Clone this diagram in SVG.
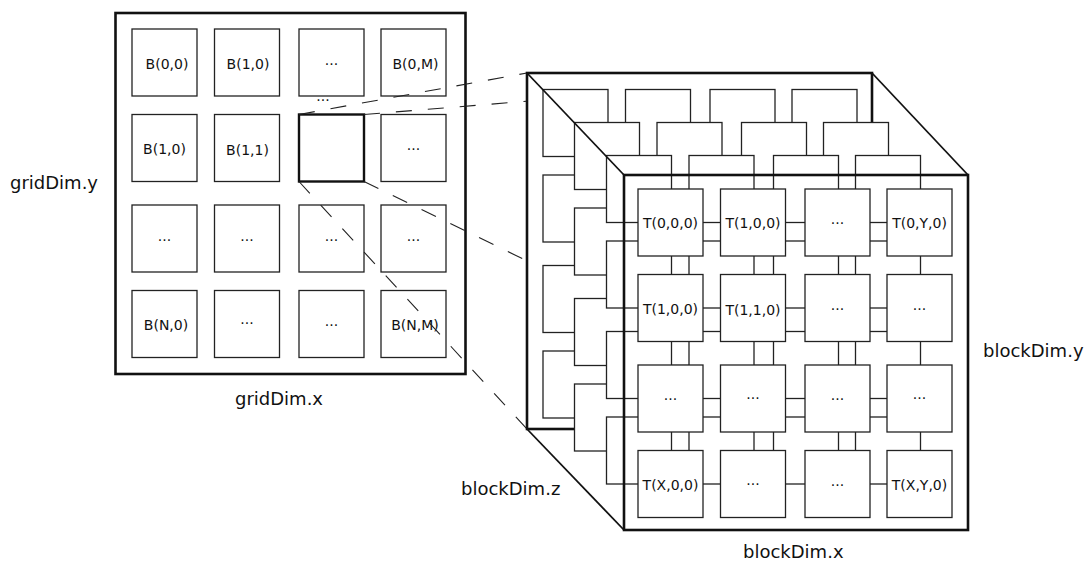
<svg xmlns="http://www.w3.org/2000/svg" xmlns:xlink="http://www.w3.org/1999/xlink" width="1088" height="564" viewBox="0 0 1088 564">
<style>
.b{fill:#fff;stroke:#222;stroke-width:1.3}
.hl{fill:#fff;stroke:#111;stroke-width:2.4}
.frame{fill:#fff;stroke:#111;stroke-width:2.6}
.back{fill:#fff;stroke:#111;stroke-width:2.6}
.face{fill:none;stroke:#111;stroke-width:2.6}
.diag{fill:none;stroke:#111;stroke-width:1.8}
.dash{fill:none;stroke:#222;stroke-width:1.1;stroke-dasharray:16 16}
.t{font-family:"DejaVu Sans",sans-serif;font-size:14px;text-anchor:middle;fill:#111}
.lbl{font-family:"DejaVu Sans",sans-serif;font-size:18px;fill:#111}
</style>
<defs>
<g id="layer">
<rect class="b" x="0" y="0" width="65" height="67"/><rect class="b" x="82.5" y="0" width="65" height="67"/><rect class="b" x="167" y="0" width="65" height="67"/><rect class="b" x="249" y="0" width="65" height="67"/>
<rect class="b" x="0" y="85.5" width="65" height="67"/><rect class="b" x="82.5" y="85.5" width="65" height="67"/><rect class="b" x="167" y="85.5" width="65" height="67"/><rect class="b" x="249" y="85.5" width="65" height="67"/>
<rect class="b" x="0" y="176" width="65" height="67"/><rect class="b" x="82.5" y="176" width="65" height="67"/><rect class="b" x="167" y="176" width="65" height="67"/><rect class="b" x="249" y="176" width="65" height="67"/>
<rect class="b" x="0" y="261.5" width="65" height="67"/><rect class="b" x="82.5" y="261.5" width="65" height="67"/><rect class="b" x="167" y="261.5" width="65" height="67"/><rect class="b" x="249" y="261.5" width="65" height="67"/>
</g>
</defs>

<g id="grid">
<rect class="frame" x="115.5" y="13" width="350" height="361"/>
<g id="B00"><rect class="b" x="132" y="29" width="65" height="67"/><text class="t" x="167" y="68.5">B(0,0)</text></g>
<g id="B10a"><rect class="b" x="214.5" y="29" width="65" height="67"/><text class="t" x="248" y="68.5">B(1,0)</text></g>
<g id="B20"><rect class="b" x="299" y="29" width="65" height="67"/><text class="t" x="331.5" y="64.5">...</text></g>
<g id="B0M"><rect class="b" x="381" y="29" width="65" height="67"/><text class="t" x="415.5" y="68.5">B(0,M)</text></g>
<g id="B10b"><rect class="b" x="132" y="114.5" width="65" height="67"/><text class="t" x="164.5" y="154">B(1,0)</text></g>
<g id="B11"><rect class="b" x="214.5" y="114.5" width="65" height="67"/><text class="t" x="247.5" y="155">B(1,1)</text></g>
<g id="Bsel"><rect class="hl" x="299" y="114.5" width="65" height="67"/></g>
<g id="B31"><rect class="b" x="381" y="114.5" width="65" height="67"/><text class="t" x="413.5" y="150">...</text></g>
<g id="B02"><rect class="b" x="132" y="205" width="65" height="67"/><text class="t" x="164.5" y="240.5">...</text></g>
<g id="B12"><rect class="b" x="214.5" y="205" width="65" height="67"/><text class="t" x="247" y="240.5">...</text></g>
<g id="B22"><rect class="b" x="299" y="205" width="65" height="67"/><text class="t" x="331.5" y="240.5">...</text></g>
<g id="B32"><rect class="b" x="381" y="205" width="65" height="67"/><text class="t" x="413.5" y="240.5">...</text></g>
<g id="BN0"><rect class="b" x="132" y="290.5" width="65" height="67"/><text class="t" x="166" y="330">B(N,0)</text></g>
<g id="B13"><rect class="b" x="214.5" y="290.5" width="65" height="67"/><text class="t" x="247" y="324">...</text></g>
<g id="B23"><rect class="b" x="299" y="290.5" width="65" height="67"/><text class="t" x="331.5" y="326">...</text></g>
<g id="BNM"><rect class="b" x="381" y="290.5" width="65" height="67"/><text class="t" x="415" y="330">B(N,M)</text></g>
<text id="vdots" class="t" x="323" y="101">...</text>
</g>

<g id="connectors">
<line class="dash" x1="299" y1="114.5" x2="527" y2="73"/>
<line class="dash" x1="364" y1="114.5" x2="872" y2="73"/>
<line class="dash" x1="364" y1="181.5" x2="872" y2="429"/>
<line class="dash" x1="299" y1="181.5" x2="527" y2="429"/>
</g>

<g id="block">
<rect class="back" x="527" y="73" width="345" height="356"/>
<use xlink:href="#layer" href="#layer" x="543" y="89.5"/>
<use xlink:href="#layer" href="#layer" x="574.5" y="122.5"/>
<use xlink:href="#layer" href="#layer" x="606.5" y="155.5"/>
<g id="T000"><rect class="b" x="638" y="189" width="65" height="67"/><text class="t" x="670.5" y="228">T(0,0,0)</text></g>
<g id="T100a"><rect class="b" x="720.5" y="189" width="65" height="67"/><text class="t" x="753" y="228">T(1,0,0)</text></g>
<g id="T200"><rect class="b" x="805" y="189" width="65" height="67"/><text class="t" x="837.5" y="224">...</text></g>
<g id="T0Y0"><rect class="b" x="887" y="189" width="65" height="67"/><text class="t" x="919.5" y="228">T(0,Y,0)</text></g>
<g id="T100b"><rect class="b" x="638" y="274.5" width="65" height="67"/><text class="t" x="670.5" y="313.5">T(1,0,0)</text></g>
<g id="T110"><rect class="b" x="720.5" y="274.5" width="65" height="67"/><text class="t" x="753" y="314.5">T(1,1,0)</text></g>
<g id="T210"><rect class="b" x="805" y="274.5" width="65" height="67"/><text class="t" x="837.5" y="309.5">...</text></g>
<g id="T310"><rect class="b" x="887" y="274.5" width="65" height="67"/><text class="t" x="919.5" y="309.5">...</text></g>
<g id="T020"><rect class="b" x="638" y="365" width="65" height="67"/><text class="t" x="670.5" y="400">...</text></g>
<g id="T120"><rect class="b" x="720.5" y="365" width="65" height="67"/><text class="t" x="753" y="399">...</text></g>
<g id="T220"><rect class="b" x="805" y="365" width="65" height="67"/><text class="t" x="837.5" y="400">...</text></g>
<g id="T320"><rect class="b" x="887" y="365" width="65" height="67"/><text class="t" x="919.5" y="399">...</text></g>
<g id="TX00"><rect class="b" x="638" y="450.5" width="65" height="67"/><text class="t" x="670.5" y="489.5">T(X,0,0)</text></g>
<g id="T130"><rect class="b" x="720.5" y="450.5" width="65" height="67"/><text class="t" x="753" y="485">...</text></g>
<g id="T230"><rect class="b" x="805" y="450.5" width="65" height="67"/><text class="t" x="837.5" y="485.5">...</text></g>
<g id="TXY0"><rect class="b" x="887" y="450.5" width="65" height="67"/><text class="t" x="919.5" y="489.5">T(X,Y,0)</text></g>
<rect class="face" x="624" y="175" width="344" height="355"/>
<line class="diag" x1="527" y1="73" x2="624" y2="175"/>
<line class="diag" x1="872" y1="73" x2="968" y2="175"/>
<line class="diag" x1="527" y1="429" x2="624" y2="530"/>
</g>

<g id="labels">
<text class="lbl" x="10" y="189">gridDim.y</text>
<text class="lbl" x="235" y="405">gridDim.x</text>
<text class="lbl" x="461" y="495">blockDim.z</text>
<text class="lbl" x="743" y="558">blockDim.x</text>
<text class="lbl" x="983" y="357">blockDim.y</text>
</g>
</svg>
